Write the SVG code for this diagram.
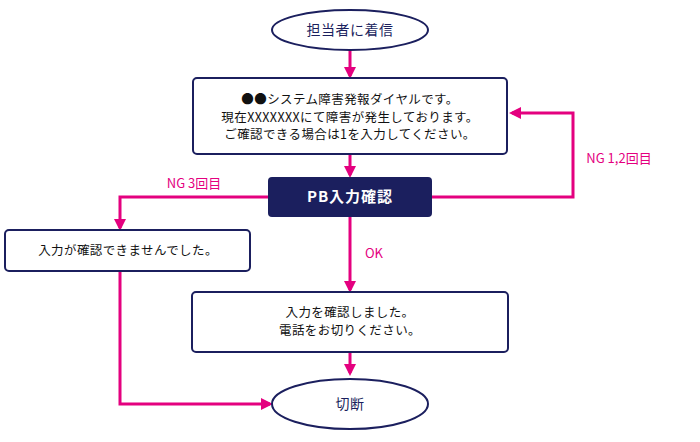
<svg xmlns="http://www.w3.org/2000/svg" width="700" height="442" viewBox="0 0 700 442">
<style>
text{font-family:"Noto Sans CJK JP","Noto Sans",sans-serif;text-anchor:middle}
.n{fill:#fff;stroke:#1b1f5e;stroke-width:2}
.t{fill:#1b1f5e;font-size:14px;letter-spacing:0.5px}
.b{fill:#111;font-size:12.5px;letter-spacing:0.4px}
.c{fill:none;stroke:#e4007f;stroke-width:3}
.l{fill:#e4007f;font-size:13px}
</style>
<defs><marker id="a" markerWidth="4" markerHeight="4" refX="3" refY="2" orient="auto"><path d="M0,0L4,2L0,4z" fill="#e4007f"/></marker></defs>
<g id="connectors">
<path class="c" d="M350,50V76" marker-end="url(#a)"/>
<path class="c" d="M350,154V175" marker-end="url(#a)"/>
<path class="c" d="M432,197H573V113H512" marker-end="url(#a)"/>
<path class="c" d="M268,197H120V228" marker-end="url(#a)"/>
<path class="c" d="M350,217V290" marker-end="url(#a)"/>
<path class="c" d="M350,352V373" marker-end="url(#a)"/>
<path class="c" d="M120,271V404H270" marker-end="url(#a)"/>
<text class="l" x="194" y="188">NG 3回目</text>
<text class="l" x="619" y="163">NG 1,2回目</text>
<text class="l" x="374" y="258">OK</text>
</g>
<g id="start"><ellipse class="n" cx="350" cy="30" rx="78" ry="20"/><text class="t" x="350" y="35">担当者に着信</text></g>
<g id="msg"><rect class="n" x="193" y="78" width="314" height="76" rx="4"/>
<text class="b" x="350" y="104">●●システム障害発報ダイヤルです。</text>
<text class="b" x="350" y="121.5">現在XXXXXXXにて障害が発生しております。</text>
<text class="b" x="350" y="139">ご確認できる場合は1を入力してください。</text></g>
<g id="pb"><rect x="268" y="177" width="164" height="40" rx="4" fill="#1b1f5e"/><text x="350" y="202" fill="#fff" font-size="15px" font-weight="bold" letter-spacing="1px">PB入力確認</text></g>
<g id="ng"><rect class="n" x="5" y="230" width="245" height="41" rx="4"/><text class="b" x="128" y="255">入力が確認できませんでした。</text></g>
<g id="ok"><rect class="n" x="192" y="292" width="316" height="60" rx="4"/>
<text class="b" x="350" y="317">入力を確認しました。</text>
<text class="b" x="350" y="335">電話をお切りください。</text></g>
<g id="end"><ellipse class="n" cx="350" cy="404" rx="78" ry="25"/><text class="t" x="350" y="409">切断</text></g>
</svg>
